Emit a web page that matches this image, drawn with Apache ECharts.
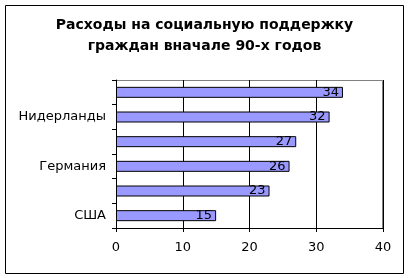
<!DOCTYPE html>
<html><head><meta charset="utf-8">
<script src="https://cdn.jsdelivr.net/npm/echarts@6/dist/echarts.min.js"></script>
<style>html,body{margin:0;padding:0;background:#fff}#c{width:409px;height:278px}</style>
</head><body><div id="c"></div>
<script>
const titleText = 'Расходы на социальную поддержку\nграждан вначале 90-х годов';
const categories = ['США', 'Великобритания', 'Германия', 'Франция', 'Нидерланды', 'Швеция'];
const values = [15, 23, 26, 27, 32, 34];
const xTicks = [0, 10, 20, 30, 40];

const chart = echarts.init(document.getElementById('c'), null, {renderer: 'canvas'});
chart.setOption({
  animation: false,
  backgroundColor: '#fff',
  title: {
    text: titleText, left: 'center', top: 10,
    textStyle: {fontFamily: 'DejaVu Sans', fontWeight: 'bold', fontSize: 14, lineHeight: 21, color: '#000'}
  },
  graphic: [{
    type: 'rect', silent: true,
    shape: {x: 5.5, y: 5.5, width: 398, height: 268},
    style: {fill: 'none', stroke: '#000', lineWidth: 1}
  }, {
    type: 'rect', silent: true, z: -1,
    shape: {x: 116.5, y: 80.5, width: 266, height: 148},
    style: {fill: 'none', stroke: '#808080', lineWidth: 1}
  }],
  grid: {left: 116, right: 26, top: 80, bottom: 50, containLabel: false},
  xAxis: {
    type: 'value', min: xTicks[0], max: xTicks[xTicks.length - 1], interval: 10,
    axisLine: {show: true, lineStyle: {color: '#000'}},
    axisTick: {show: true, length: 4, lineStyle: {color: '#000'}},
    axisLabel: {color: '#000', fontFamily: 'DejaVu Sans', fontSize: 13, margin: 13},
    splitLine: {show: true, lineStyle: {color: '#000'}}
  },
  yAxis: {
    type: 'category', data: categories,
    axisLine: {show: true, lineStyle: {color: '#000'}},
    axisTick: {show: true, length: 4, interval: 0, lineStyle: {color: '#000'}},
    axisLabel: {color: '#000', fontFamily: 'DejaVu Sans', fontSize: 13, interval: 1, margin: 10}
  },
  series: [{
    type: 'bar', data: values, barWidth: 11,
    itemStyle: {color: '#9999FF', borderColor: '#000', borderWidth: 1},
    label: {show: true, position: 'insideRight', distance: 4, color: '#000', fontFamily: 'DejaVu Sans', fontSize: 13}
  }]
});
</script></body></html>
